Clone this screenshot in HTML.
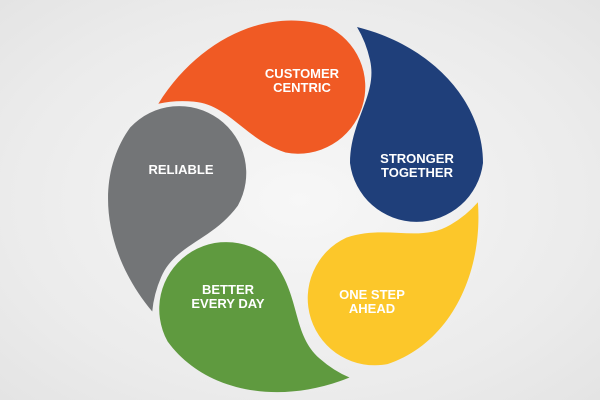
<!DOCTYPE html>
<html><head><style>
html,body{margin:0;padding:0;overflow:hidden;}
body{width:600px;height:400px;overflow:hidden;background:radial-gradient(ellipse at 50% 50%,#f7f7f7 0%,#ebebeb 70%,#e4e4e4 100%);}
svg{display:block;overflow:hidden}
text{font-family:"Liberation Sans",sans-serif;font-weight:bold;font-size:13px;fill:#fff;text-anchor:middle;}
</style></head><body>
<svg width="600" height="400" viewBox="0 0 600 400">
<defs>
<path id="drop" d="M357,27 C430,45 483,100 483,163 A67,67 0 0 1 350,163 C350,120 378,95 370,60 Q366,42 357,27 Z"/>
</defs>
<use href="#drop" fill="#1f3f7a"/>
<use href="#drop" fill="#f05a24" transform="translate(10,8) rotate(-72 300 205)"/>
<use href="#drop" fill="#737577" transform="translate(3,-4) rotate(-144 300 205)"/>
<use href="#drop" fill="#5f9a3f" transform="translate(-9,-5) rotate(-216 300 205)"/>
<use href="#drop" fill="#fcc72a" transform="translate(-9,-2) rotate(-288 300 205)"/>
<text x="302" y="78">CUSTOMER</text>
<text x="302" y="92">CENTRIC</text>
<text x="417" y="163">STRONGER</text>
<text x="417" y="177">TOGETHER</text>
<text x="181" y="174">RELIABLE</text>
<text x="228" y="294">BETTER</text>
<text x="228" y="308">EVERY DAY</text>
<text x="372" y="299">ONE STEP</text>
<text x="372" y="313">AHEAD</text>
</svg>
</body></html>
